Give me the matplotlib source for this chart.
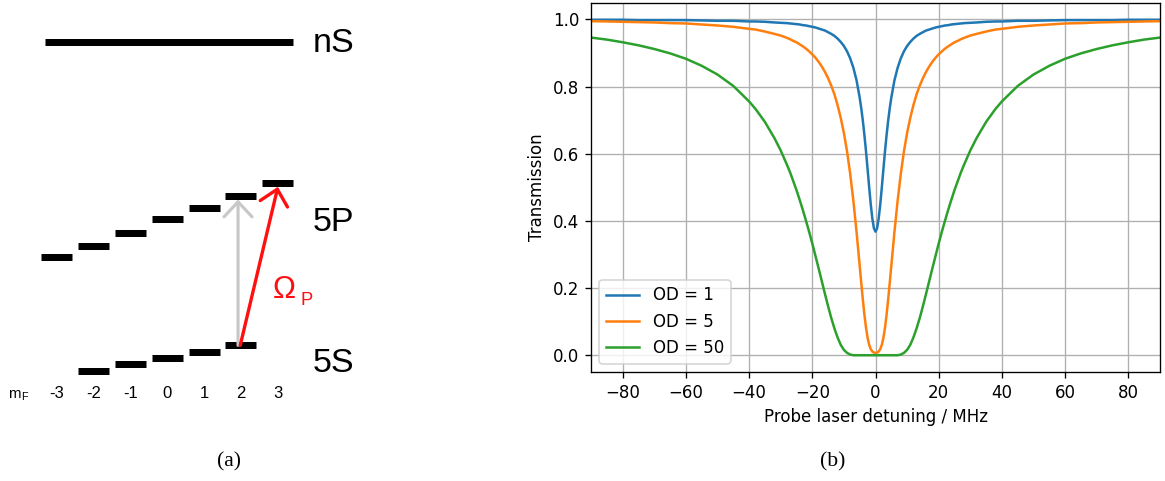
import matplotlib
matplotlib.use("Agg")
import matplotlib.pyplot as plt

# ---------------------------------------------------------------------------
# Level scheme (a): magnetic sublevels and their (schematic) energies
# ---------------------------------------------------------------------------
ground_mf = [-2, -1, 0, 1, 2]
ground_energy = [-1.24, -0.60, 0.00, 0.66, 1.30]
excited_mf = [-3, -2, -1, 0, 1, 2, 3]
excited_energy = [10.13, 11.26, 12.56, 13.93, 15.03, 16.23, 17.50]
rydberg_energy = 31.66
mf_labels = ["-3", "-2", "-1", "0", "1", "2", "3"]

# ---------------------------------------------------------------------------
# Probe transmission spectra (b), detuning in MHz
# ---------------------------------------------------------------------------
detuning = [-90, -85, -80, -75, -70, -65, -60, -55, -50, -45, -40, -38,
            -35, -32, -30, -28, -27, -26, -25, -24, -23, -22, -21, -20,
            -19, -18, -17, -16, -15, -14, -13, -12, -11, -10, -9, -8,
            -7, -6, -5, -4.5, -4, -3.5, -3, -2.5, -2, -1.5, -1, -0.5,
            0,
            0.5, 1, 1.5, 2, 2.5, 3, 3.5, 4, 4.5, 5, 6, 7,
            8, 9, 10, 11, 12, 13, 14, 15, 16, 17, 18, 19,
            20, 21, 22, 23, 24, 25, 26, 27, 28, 30, 32, 35,
            38, 40, 45, 50, 55, 60, 65, 70, 75, 80, 85, 90]

trans_od1 = [0.999, 0.999, 0.999, 0.998, 0.998, 0.998, 0.998, 0.997, 0.996, 0.996, 0.994, 0.994,
             0.993, 0.991, 0.990, 0.989, 0.988, 0.987, 0.986, 0.985, 0.983, 0.982, 0.980, 0.978,
             0.976, 0.973, 0.970, 0.967, 0.962, 0.957, 0.951, 0.943, 0.933, 0.921, 0.905, 0.884,
             0.856, 0.819, 0.767, 0.735, 0.698, 0.655, 0.607, 0.554, 0.500, 0.449, 0.407, 0.378,
             0.368,
             0.378, 0.407, 0.449, 0.500, 0.554, 0.607, 0.655, 0.698, 0.735, 0.767, 0.819, 0.856,
             0.884, 0.905, 0.921, 0.933, 0.943, 0.951, 0.957, 0.962, 0.967, 0.970, 0.973, 0.976,
             0.978, 0.980, 0.982, 0.983, 0.985, 0.986, 0.987, 0.988, 0.989, 0.990, 0.991, 0.993,
             0.994, 0.994, 0.996, 0.996, 0.997, 0.998, 0.998, 0.998, 0.998, 0.999, 0.999, 0.999]

trans_od5 = [0.995, 0.994, 0.993, 0.992, 0.991, 0.989, 0.988, 0.985, 0.982, 0.978, 0.972, 0.970,
             0.964, 0.957, 0.952, 0.945, 0.941, 0.936, 0.932, 0.926, 0.920, 0.913, 0.905, 0.896,
             0.886, 0.874, 0.860, 0.844, 0.825, 0.803, 0.777, 0.745, 0.707, 0.662, 0.607, 0.540,
             0.460, 0.368, 0.266, 0.215, 0.165, 0.120, 0.082, 0.052, 0.031, 0.018, 0.011, 0.008,
             0.007,
             0.008, 0.011, 0.018, 0.031, 0.052, 0.082, 0.120, 0.165, 0.215, 0.266, 0.368, 0.460,
             0.540, 0.607, 0.662, 0.707, 0.745, 0.777, 0.803, 0.825, 0.844, 0.860, 0.874, 0.886,
             0.896, 0.905, 0.913, 0.920, 0.926, 0.932, 0.936, 0.941, 0.945, 0.952, 0.957, 0.964,
             0.970, 0.972, 0.978, 0.982, 0.985, 0.988, 0.989, 0.991, 0.992, 0.993, 0.994, 0.995]

trans_od50 = [0.946, 0.940, 0.932, 0.923, 0.912, 0.899, 0.883, 0.862, 0.836, 0.802, 0.756, 0.734,
              0.695, 0.647, 0.610, 0.567, 0.544, 0.518, 0.492, 0.463, 0.433, 0.401, 0.368, 0.333,
              0.296, 0.259, 0.221, 0.183, 0.146, 0.111, 0.080, 0.053, 0.031, 0.016, 0.007, 0.002,
              0.000, 0.000, 0.000, 0.000, 0.000, 0.000, 0.000, 0.000, 0.000, 0.000, 0.000, 0.000,
              0.000,
              0.000, 0.000, 0.000, 0.000, 0.000, 0.000, 0.000, 0.000, 0.000, 0.000, 0.000, 0.000,
              0.002, 0.007, 0.016, 0.031, 0.053, 0.080, 0.111, 0.146, 0.183, 0.221, 0.259, 0.296,
              0.333, 0.368, 0.401, 0.433, 0.463, 0.492, 0.518, 0.544, 0.567, 0.610, 0.647, 0.695,
              0.734, 0.756, 0.802, 0.836, 0.862, 0.883, 0.899, 0.912, 0.923, 0.932, 0.940, 0.946]

series = [("OD = 1", trans_od1), ("OD = 5", trans_od5), ("OD = 50", trans_od50)]

SANS = "Liberation Sans"
SERIF = "Liberation Serif"
RED = "#ff1010"

fig = plt.figure(figsize=(1165 / 120, 481 / 120), dpi=120)

# ---------------------------- level diagram --------------------------------
ax0 = fig.add_axes([0, 0, 1, 1])
ax0.set_xlim(-4.531, 27.041)
ax0.set_ylim(-12.27, 35.83)
ax0.axis("off")

half = 0.42  # half width of a sublevel bar (in m_F units)
bar_kw = dict(colors="black", linewidth=4.2, capstyle="butt")
ax0.hlines(ground_energy, [m - half for m in ground_mf],
           [m + half for m in ground_mf], **bar_kw)
ax0.hlines(excited_energy, [m - half for m in excited_mf],
           [m + half for m in excited_mf], **bar_kw)
ax0.hlines([rydberg_energy], [min(excited_mf) - half + 0.1],
           [max(excited_mf) + half], **bar_kw)

gap = 0.35  # arrows stop at the lower edge of the target bar
start_E = ground_energy[ground_mf.index(2)]
head = "->,head_length=0.75,head_width=0.7"
ax0.annotate("", xy=(1.92, excited_energy[excited_mf.index(2)] - gap),
             xytext=(1.92, start_E),
             arrowprops=dict(arrowstyle=head, mutation_scale=12, lw=1.9,
                             color="#c8c8c8", shrinkA=0, shrinkB=0))
ax0.annotate("", xy=(3.0, excited_energy[excited_mf.index(3)] - gap),
             xytext=(1.98, start_E),
             arrowprops=dict(arrowstyle=head, mutation_scale=12, lw=2.0,
                             color=RED, shrinkA=0, shrinkB=0))

for y, name in [(30.66, "nS"), (12.76, "5P"), (-1.34, "5S")]:
    ax0.text(3.95, y, name, fontsize=20.5, family=SANS, va="baseline")
ax0.text(2.87, 6.0, "Ω", fontsize=18.5, family=SANS, color=RED,
         va="baseline")
ax0.text(3.62, 5.33, "P", fontsize=11, family=SANS, color=RED,
         va="baseline")

for m, lab in zip(excited_mf, mf_labels):
    ax0.text(m, -4.0, lab, fontsize=10, family=SANS, ha="center",
             va="baseline")
ax0.text(-4.31, -4.0, "m", fontsize=9, family=SANS, va="baseline")
ax0.text(-3.96, -4.12, "F", fontsize=6.5, family=SANS, va="baseline")

# --------------------------- transmission plot ------------------------------
ax = fig.add_axes([591 / 1165, 1 - 372 / 481, 569 / 1165, 369 / 481])
for label, values in series:
    ax.plot(detuning, values, label=label)
ax.set_xlim(-90, 90)
ax.set_xticks([-80, -60, -40, -20, 0, 20, 40, 60, 80])
ax.set_yticks([0.0, 0.2, 0.4, 0.6, 0.8, 1.0])
ax.grid(True)
ax.set_xlabel("Probe laser detuning / MHz")
ax.set_ylabel("Transmission")
ax.legend(loc="lower left")

fig.text(229 / 1165, 1 - 461.5 / 481, "(a)", family=SERIF, fontsize=13,
         ha="center", va="center")
fig.text(833 / 1165, 1 - 461.5 / 481, "(b)", family=SERIF, fontsize=13,
         ha="center", va="center")

fig.savefig("out.png", dpi=120)
